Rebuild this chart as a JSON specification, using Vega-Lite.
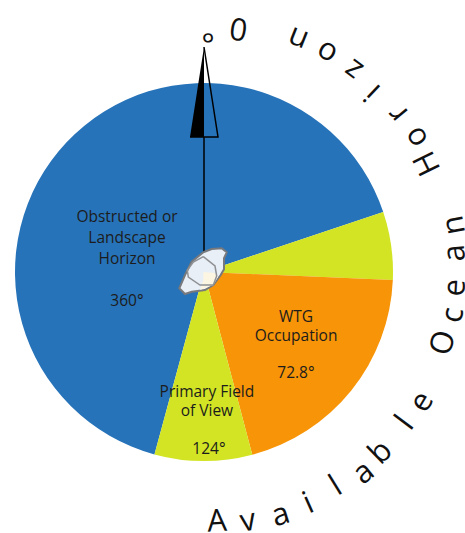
{
"$schema":"https://vega.github.io/schema/vega-lite/v6.json",
"width":465,"height":533,"padding":0,"autosize":{"type":"none"},
"background":"white",
"view":{"stroke":null},
"config":{"axis":null},
"datasets":{
"sectors":[
{"sector":"Obstructed or Landscape Horizon","start":195.2,"end":431.5},
{"sector":"Primary Field of View (upper)","start":71.5,"end":92.4},
{"sector":"WTG Occupation","start":92.4,"end":165.2},
{"sector":"Primary Field of View (lower)","start":165.2,"end":195.2}],
"labels":[
{"t":"Obstructed or","bearing":305.5,"radius":94.6},
{"t":"Landscape","bearing":293.8,"radius":84.2},
{"t":"Horizon","bearing":279.6,"radius":78.1},
{"t":"360°","bearing":249.4,"radius":82.3},
{"t":"WTG","bearing":116.1,"radius":102.4},
{"t":"Occupation","bearing":124.8,"radius":112.1},
{"t":"72.8°","bearing":137.7,"radius":136.6},
{"t":"Primary Field","bearing":178.6,"radius":120},
{"t":"of View","bearing":178.8,"radius":139},
{"t":"124°","bearing":178.4,"radius":177}],
"letters":[
{"t":"A","bearing":177,"radius":250.5},
{"t":"v","bearing":170,"radius":253.5},
{"t":"a","bearing":162.5,"radius":255.5},
{"t":"i","bearing":155.7,"radius":254.5},
{"t":"l","bearing":148.4,"radius":252},
{"t":"a","bearing":141.5,"radius":257},
{"t":"b","bearing":135.6,"radius":253},
{"t":"l","bearing":126.9,"radius":252},
{"t":"e","bearing":120.8,"radius":254},
{"t":"O","bearing":106.5,"radius":250},
{"t":"c","bearing":99.8,"radius":253},
{"t":"e","bearing":93.6,"radius":252},
{"t":"a","bearing":85.7,"radius":252},
{"t":"n","bearing":79.4,"radius":255},
{"t":"H","bearing":64,"radius":249},
{"t":"o","bearing":57.6,"radius":252},
{"t":"r","bearing":50.7,"radius":251},
{"t":"i","bearing":43.2,"radius":247},
{"t":"z","bearing":36.5,"radius":252},
{"t":"o","bearing":29.2,"radius":252},
{"t":"n","bearing":21.9,"radius":252},
{"t":"0","bearing":8.1,"radius":247},
{"t":"°","bearing":1,"radius":243}],
"pointerHalf":[{"e":-14,"n":135,"n2":135},{"e":0,"n":225,"n2":135}],
"pointerOutline":[{"i":0,"e":0,"n":225},{"i":1,"e":14,"n":135},{"i":2,"e":-14,"n":135}],
"pointerStem":[{"i":0,"e":0,"n":135},{"i":1,"e":0,"n":20}],
"blob":[
{"i":0,"e":-0.7,"n":19.7},{"i":1,"e":7.7,"n":23},{"i":2,"e":17.7,"n":23.7},{"i":3,"e":22.7,"n":19.7},
{"i":4,"e":20,"n":13.7},{"i":5,"e":20,"n":2.7},{"i":6,"e":16.7,"n":-3},{"i":7,"e":9.3,"n":-13},
{"i":8,"e":1,"n":-18},{"i":9,"e":-12.3,"n":-19.7},{"i":10,"e":-19,"n":-22},{"i":11,"e":-24.7,"n":-16.3},
{"i":12,"e":-19,"n":-3},{"i":13,"e":-12.3,"n":10.3},{"i":14,"e":-0.7,"n":19.7}],
"blobWarm":[
{"i":0,"e":-0.7,"n":0},{"i":1,"e":11,"n":-1},{"i":2,"e":14,"n":-5},{"i":3,"e":9.3,"n":-13},
{"i":4,"e":-4,"n":-18},{"i":5,"e":-0.7,"n":-8},{"i":6,"e":-0.7,"n":0}],
"blobRing":[
{"i":0,"e":-0.7,"n":15.3},{"i":1,"e":11,"n":6},{"i":2,"e":12.7,"n":-4},{"i":3,"e":9.3,"n":-13},
{"i":4,"e":-4,"n":-13},{"i":5,"e":-15.7,"n":-5},{"i":6,"e":-16.7,"n":1.7},{"i":7,"e":-10.7,"n":10},{"i":8,"e":-0.7,"n":15.3}]
},
"layer":[
{"data":{"name":"sectors"},
 "mark":{"type":"arc","outerRadius":189},
 "encoding":{
  "x":{"datum":0,"type":"quantitative","scale":{"domain":[-204,261],"range":[0,465],"nice":false,"zero":false},"axis":null},
  "y":{"datum":0,"type":"quantitative","scale":{"domain":[-261,272],"range":[533,0],"nice":false,"zero":false},"axis":null},
  "theta":{"field":"start","type":"quantitative","scale":{"domain":[0,720],"range":[0,12.56637]}},
  "theta2":{"field":"end"},
  "fill":{"field":"sector","type":"nominal","legend":null,"scale":{"domain":["Obstructed or Landscape Horizon","Primary Field of View (upper)","WTG Occupation","Primary Field of View (lower)"],"range":["#2773b9","#d2e423","#f79407","#d2e423"]}}
 }},
{"data":{"name":"pointerStem"},"mark":{"type":"line","stroke":"black","strokeWidth":1.5},
 "encoding":{"x":{"field":"e","type":"quantitative"},"y":{"field":"n","type":"quantitative"},"order":{"field":"i"}}},
{"data":{"name":"pointerHalf"},"mark":{"type":"area","fill":"black"},
 "encoding":{"x":{"field":"e","type":"quantitative"},"y":{"field":"n","type":"quantitative"},"y2":{"field":"n2"}}},
{"data":{"name":"pointerOutline"},"mark":{"type":"line","stroke":"black","strokeWidth":1.5},
 "encoding":{"x":{"field":"e","type":"quantitative"},"y":{"field":"n","type":"quantitative"},"order":{"field":"i"}}},
{"data":{"name":"blob"},"mark":{"type":"line","fill":"#e9eff7","stroke":"#77797c","strokeWidth":2},
 "encoding":{"x":{"field":"e","type":"quantitative"},"y":{"field":"n","type":"quantitative"},"order":{"field":"i"}}},
{"data":{"name":"blobWarm"},"mark":{"type":"line","fill":"#fbf5e2","stroke":null,"strokeWidth":0},
 "encoding":{"x":{"field":"e","type":"quantitative"},"y":{"field":"n","type":"quantitative"},"order":{"field":"i"}}},
{"data":{"name":"blobRing"},"mark":{"type":"line","stroke":"#8f9194","strokeWidth":1.5},
 "encoding":{"x":{"field":"e","type":"quantitative"},"y":{"field":"n","type":"quantitative"},"order":{"field":"i"}}},
{"data":{"name":"labels"},
 "mark":{"type":"text","font":"Open Sans","fontSize":15.5,"fill":"#1c1c1c","align":"center","baseline":"middle"},
 "encoding":{
  "x":{"datum":0,"type":"quantitative"},"y":{"datum":0,"type":"quantitative"},
  "theta":{"field":"bearing","type":"quantitative"},
  "radius":{"field":"radius","type":"quantitative","scale":{"type":"linear","domain":[0,300],"range":[0,300]}},
  "text":{"field":"t"}}},
{"data":{"name":"letters"},
 "mark":{"type":"text","font":"Open Sans","fontSize":31,"fill":"#111111","align":"center","baseline":"middle"},
 "encoding":{
  "x":{"datum":0,"type":"quantitative"},"y":{"datum":0,"type":"quantitative"},
  "theta":{"field":"bearing","type":"quantitative"},
  "radius":{"field":"radius","type":"quantitative"},
  "angle":{"field":"bearing","type":"quantitative","scale":{"domain":[0,360],"range":[-180,180]},"legend":null},
  "text":{"field":"t"}}}
]
}
